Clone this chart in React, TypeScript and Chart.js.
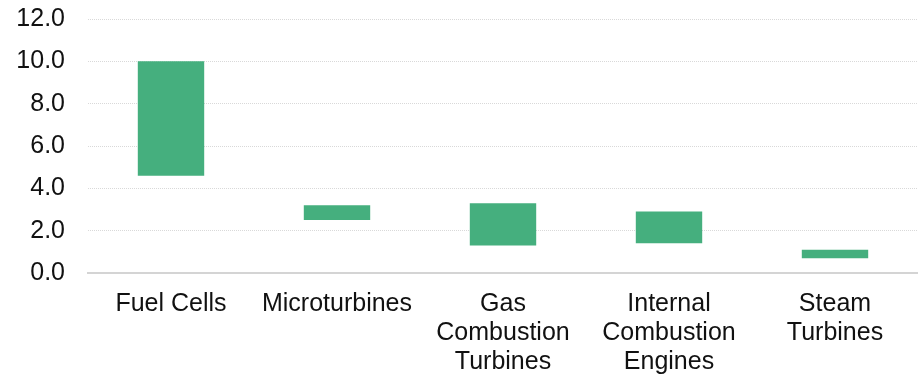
import React, { useEffect, useRef } from "react";
import { Chart, registerables } from "chart.js";

Chart.register(...registerables);

const categories: string[][] = [
  ["Fuel Cells"],
  ["Microturbines"],
  ["Gas", "Combustion", "Turbines"],
  ["Internal", "Combustion", "Engines"],
  ["Steam", "Turbines"],
];
const lowValues = [4.6, 2.5, 1.3, 1.4, 0.7];
const highValues = [10.0, 3.2, 3.3, 2.9, 1.1];
const yTicks = [0, 2, 4, 6, 8, 10, 12];

export default function App() {
  const ref = useRef<HTMLCanvasElement | null>(null);
  useEffect(() => {
    if (!ref.current) return;
    const font = { family: "'Liberation Sans', Arial, sans-serif", size: 25 };
    const chart = new Chart(ref.current, {
      type: "bar",
      data: {
        labels: categories,
        datasets: [
          {
            data: lowValues.map((lo, i) => [lo, highValues[i]]),
            backgroundColor: "rgb(69,175,126)",
            borderWidth: 0,
            barPercentage: 0.8,
            categoryPercentage: 0.5,
          },
        ],
      },
      options: {
        animation: false,
        responsive: false,
        maintainAspectRatio: false,
        layout: { padding: { left: 0, top: 19, right: 0, bottom: 0 } },
        plugins: { legend: { display: false }, tooltip: { enabled: false } },
        scales: {
          x: {
            grid: { display: false, drawTicks: false },
            border: { display: true, color: "#d4d4d4", width: 2 },
            ticks: {
              color: "#111",
              font: { ...font, lineHeight: 1.15 },
              padding: 17,
              maxRotation: 0,
              autoSkip: false,
            },
            afterFit: (axis: any) => {
              axis.height = 101;
              axis.paddingLeft = 0;
              axis.paddingRight = 0;
            },
          },
          y: {
            min: 0,
            max: 12,
            afterBuildTicks: (axis: any) => {
              axis.ticks = yTicks.map((v) => ({ value: v }));
            },
            grid: {
              color: "#d9d9d9",
              lineWidth: 1,
              drawTicks: false,
            },
            border: { display: false, dash: [1, 1] },
            ticks: {
              color: "#111",
              font,
              padding: 23,
              callback: (v: any) => Number(v).toFixed(1),
            },
            afterFit: (axis: any) => {
              axis.width = 88;
              axis.paddingTop = 0;
              axis.paddingBottom = 0;
            },
          },
        },
      },
    });
    return () => chart.destroy();
  }, []);
  return (
    <div style={{ position: "absolute", left: 0, top: 0, width: 918, height: 374 }}>
      <canvas ref={ref} width={918} height={374} />
    </div>
  );
}
